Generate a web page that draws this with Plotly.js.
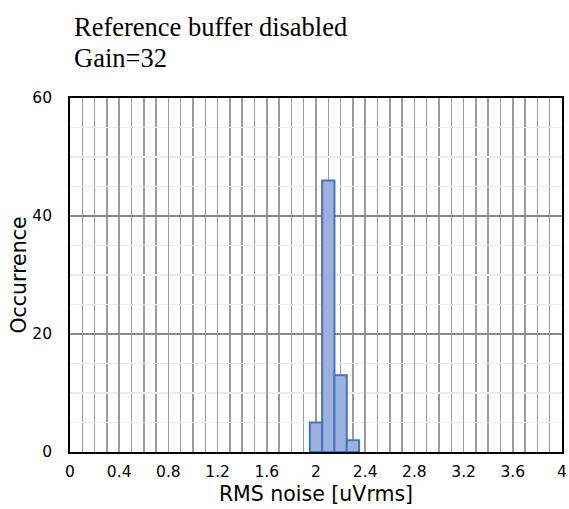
<!DOCTYPE html>
<html>
<head>
<meta charset="utf-8">
<script src="https://cdn.plot.ly/plotly-3.0.1.min.js"></script>
<style>html,body{margin:0;padding:0;background:#fff;}#chart{width:569px;height:509px;}</style>
</head>
<body>
<div id="chart"></div>
<script>
const binCenters = [2.0, 2.1, 2.2, 2.3];
const occurrences = [5, 46, 13, 2];
const xTickVals = [0, 0.4, 0.8, 1.2, 1.6, 2, 2.4, 2.8, 3.2, 3.6, 4];
const xTickText = ['0', '0.4', '0.8', '1.2', '1.6', '2', '2.4', '2.8', '3.2', '3.6', '4'];
const yTickVals = [0, 20, 40, 60];
const titleLines = ['Reference buffer disabled', 'Gain=32'];

const tickFont = {family: 'DejaVu Sans, sans-serif', size: 15.5, color: '#000'};
const axTitleFont = {family: 'DejaVu Sans, sans-serif', size: 20.5, color: '#000'};

const data = [{
  type: 'bar',
  x: binCenters,
  y: occurrences,
  width: 0.1,
  marker: {color: '#9db1df', line: {color: '#4472c4', width: 2}},
  hoverinfo: 'x+y'
}];

const titleCentersPx = [27, 58];
const annotations = titleLines.map((t, i) => ({
  text: t,
  xref: 'paper', yref: 'paper',
  x: 2 / 492, xanchor: 'left',
  y: 1 + (98 - titleCentersPx[i]) / 354, yanchor: 'middle',
  align: 'left', showarrow: false,
  font: {family: 'Liberation Serif, Times New Roman, serif', size: 26.5, color: '#000'}
}));

const layout = {
  width: 569, height: 509,
  paper_bgcolor: '#fff', plot_bgcolor: '#fff',
  margin: {l: 70, r: 7, t: 98, b: 57},
  showlegend: false,
  annotations: annotations,
  xaxis: {
    range: [0, 4],
    tickmode: 'array', tickvals: xTickVals, ticktext: xTickText,
    showgrid: true, gridcolor: '#9c9c9c', gridwidth: 1.5,
    minor: {dtick: 0.1, showgrid: true, gridcolor: '#9c9c9c', gridwidth: 1.5, ticks: ''},
    showline: true, linecolor: '#000', linewidth: 1.8, mirror: true,
    ticks: '', tickfont: tickFont, zeroline: false, ticklabelstandoff: 5,
    title: {text: 'RMS noise [uVrms]', font: axTitleFont, standoff: 6}
  },
  yaxis: {
    range: [0, 60],
    tickmode: 'array', tickvals: yTickVals,
    showgrid: true, gridcolor: '#8a8a8a', gridwidth: 1.5,
    minor: {dtick: 5, showgrid: true, gridcolor: '#ececec', gridwidth: 1.5, ticks: ''},
    showline: true, linecolor: '#000', linewidth: 1.8, mirror: true,
    ticks: '', tickfont: tickFont, zeroline: false, ticklabelstandoff: 13,
    title: {text: 'Occurrence', font: axTitleFont, standoff: 0}
  },
  bargap: 0
};

Plotly.newPlot('chart', data, layout, {displayModeBar: false, staticPlot: true});
</script>
</body>
</html>
